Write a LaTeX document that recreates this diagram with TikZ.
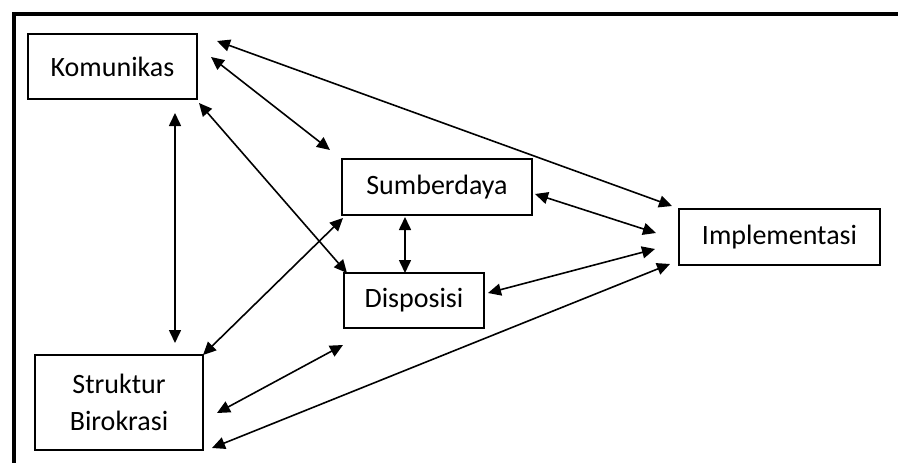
\documentclass[tikz,border=0pt]{standalone}
\usepackage{fontspec}
\setmainfont{Carlito}
\usetikzlibrary{arrows.meta}
\begin{document}
\begin{tikzpicture}[x=1pt,y=-1pt,
  box/.style={draw,line width=1.5pt,rectangle,inner sep=0pt,align=center,
    font=\fontsize{28}{37}\selectfont},
  link/.style={line width=1.6pt,{Triangle[length=13pt,width=12pt]}-{Triangle[length=13pt,width=12pt]}}]
\useasboundingbox (0,0) rectangle (898,463);
\fill[white] (0,0) rectangle (898,463);
\draw[line width=3.5pt] (14,463) -- (14,14) -- (898,14);
\node[box,minimum width=169pt,minimum height=65pt] (kom) at (112.5,66.5) {Komunikas};
\node[box,minimum width=190pt,minimum height=56pt] (sum) at (437,187) {Sumberdaya};
\node[box,minimum width=201pt,minimum height=56pt] (imp) at (779.5,237) {Implementasi};
\node[box,minimum width=140pt,minimum height=55pt] (dis) at (414,300.5) {Disposisi};
\node[box,minimum width=168pt,minimum height=95pt] (str) at (119,402.5) {Struktur\\Birokrasi};
% arrow end points
\coordinate (a1) at (217,41);  \coordinate (b1) at (672,206);
\coordinate (a2) at (211,57);  \coordinate (b2) at (330,150);
\coordinate (a3) at (199,103); \coordinate (b3) at (347,273);
\coordinate (a4) at (175,113); \coordinate (b4) at (175,343);
\coordinate (a5) at (343,218); \coordinate (b5) at (203,355);
\coordinate (a6) at (405,217); \coordinate (b6) at (405,273);
\coordinate (a7) at (535,194); \coordinate (b7) at (656,233);
\coordinate (a8) at (488,293); \coordinate (b8) at (655,249);
\coordinate (a9) at (217,413); \coordinate (b9) at (343,345);
\coordinate (a10) at (212,448); \coordinate (b10) at (670,264);
\foreach \i in {1,...,10} {\draw[link] (a\i) -- (b\i);}
\end{tikzpicture}
\end{document}
